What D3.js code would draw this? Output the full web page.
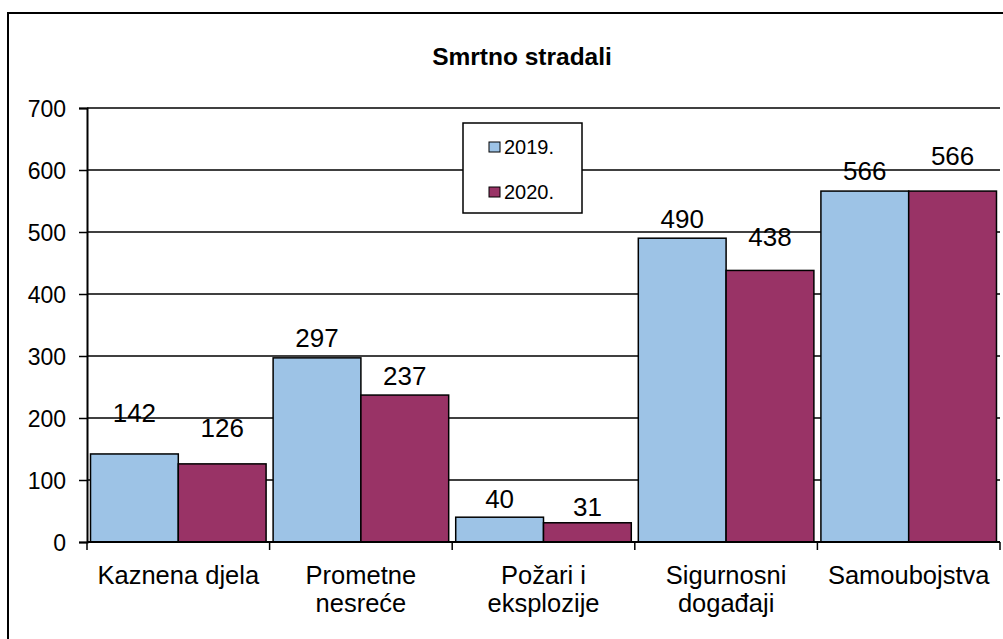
<!DOCTYPE html>
<html>
<head>
<meta charset="utf-8">
<script src="https://cdn.jsdelivr.net/npm/d3@7"></script>
<style>
  body { margin: 0; background: #fff; }
  svg { display: block; font-family: Arial, "Liberation Sans", sans-serif; }
</style>
</head>
<body>
<div id="chart"></div>
<script>
const categories = ["Kaznena djela", "Prometne nesreće", "Požari i eksplozije", "Sigurnosni događaji", "Samoubojstva"];
const categoryLines = [["Kaznena djela"], ["Prometne", "nesreće"], ["Požari i", "eksplozije"], ["Sigurnosni", "događaji"], ["Samoubojstva"]];
const series = ["2019.", "2020."];
const values2019 = [142, 297, 40, 490, 566];
const values2020 = [126, 237, 31, 438, 566];
const yTicks = [0, 100, 200, 300, 400, 500, 600, 700];
const title = "Smrtno stradali";

const colors = ["#9DC3E6", "#993366"];
// label baseline distance above bar top (Excel places them unevenly)
const labelLift = [[32, 27], [11, 10], [9, 7], [10, 24], [11, 26]];

const width = 1003, height = 639;
const margin = { left: 87, right: 3, top: 108, bottom: 97 };

const svg = d3.select("#chart").append("svg")
  .attr("width", width).attr("height", height);

// outer frame
svg.append("rect")
  .attr("x", 8).attr("y", 13)
  .attr("width", 1020).attr("height", 660)
  .attr("fill", "#fff").attr("stroke", "#000").attr("stroke-width", 2);

svg.append("text")
  .attr("x", 522).attr("y", 65)
  .attr("text-anchor", "middle")
  .style("font-size", "24.5px").style("font-weight", "bold")
  .text(title);

const x0 = d3.scaleBand()
  .domain(categories)
  .range([margin.left, width - margin.right])
  .padding(0);

const x1 = d3.scaleBand()
  .domain(series)
  .range([0, x0.bandwidth()])
  .paddingInner(0)
  .paddingOuter(0.04);

const y = d3.scaleLinear()
  .domain([0, 700])
  .range([height - margin.bottom, margin.top]);

// gridlines
svg.append("g")
  .selectAll("line")
  .data(yTicks.filter(d => d > 0))
  .join("line")
  .attr("x1", margin.left).attr("x2", width - margin.right)
  .attr("y1", d => y(d)).attr("y2", d => y(d))
  .attr("stroke", "#000").attr("stroke-width", 1.5);

// y axis
const yAxis = svg.append("g")
  .attr("transform", `translate(${margin.left},0)`)
  .call(d3.axisLeft(y).tickValues(yTicks).tickSize(8).tickPadding(13));
yAxis.select(".domain").attr("stroke-width", 2);
yAxis.selectAll(".tick line").attr("stroke-width", 1.5);
yAxis.selectAll("text").style("font-size", "23px").attr("fill", "#000").attr("dy", "0.36em");

// legend
const lg = svg.append("g").attr("transform", "translate(463,123)");
lg.append("rect").attr("width", 119).attr("height", 90)
  .attr("fill", "#fff").attr("stroke", "#000").attr("stroke-width", 1.5);
series.forEach((s, i) => {
  const yy = 19 + i * 45;
  lg.append("rect").attr("x", 26).attr("y", yy)
    .attr("width", 11).attr("height", 10)
    .attr("fill", colors[i]).attr("stroke", "#000").attr("stroke-width", 1);
  lg.append("text").attr("x", 41).attr("y", yy + 12)
    .style("font-size", "20px").text(s);
});

// bars
const rows = categories.map((c, i) => ({ cat: i, vals: [values2019[i], values2020[i]] }));
const groups = svg.append("g").selectAll("g")
  .data(rows)
  .join("g")
  .attr("transform", d => `translate(${x0(categories[d.cat])},0)`);

groups.selectAll("rect")
  .data(d => d.vals.map((v, j) => ({ v, j, cat: d.cat })))
  .join("rect")
  .attr("x", d => x1(series[d.j]))
  .attr("y", d => y(d.v))
  .attr("width", x1.bandwidth())
  .attr("height", d => y(0) - y(d.v))
  .attr("fill", d => colors[d.j])
  .attr("stroke", "#000").attr("stroke-width", 1.5);

groups.selectAll("text")
  .data(d => d.vals.map((v, j) => ({ v, j, cat: d.cat })))
  .join("text")
  .attr("x", d => x1(series[d.j]) + x1.bandwidth() / 2)
  .attr("y", d => y(d.v) - labelLift[d.cat][d.j])
  .attr("text-anchor", "middle")
  .style("font-size", "26px")
  .text(d => d.v);

// x axis
const xAxis = svg.append("g")
  .attr("transform", `translate(0,${y(0)})`);
xAxis.append("line")
  .attr("x1", margin.left).attr("x2", width - margin.right)
  .attr("stroke", "#000").attr("stroke-width", 2);
const boundaries = categories.map(c => x0(c)).concat([x0.range()[1]]);
xAxis.selectAll("line.tk")
  .data(boundaries)
  .join("line").attr("class", "tk")
  .attr("x1", d => d).attr("x2", d => d)
  .attr("y1", 0).attr("y2", 8)
  .attr("stroke", "#000").attr("stroke-width", 1.5);

xAxis.selectAll("text")
  .data(categoryLines)
  .join("text")
  .attr("x", (d, i) => x0(categories[i]) + x0.bandwidth() / 2)
  .attr("y", 42)
  .attr("text-anchor", "middle")
  .style("font-size", "25.5px")
  .selectAll("tspan")
  .data(d => d)
  .join("tspan")
  .attr("x", function () { return this.parentNode.getAttribute("x"); })
  .attr("dy", (d, i) => i === 0 ? 0 : 28)
  .text(d => d);
</script>
</body>
</html>
